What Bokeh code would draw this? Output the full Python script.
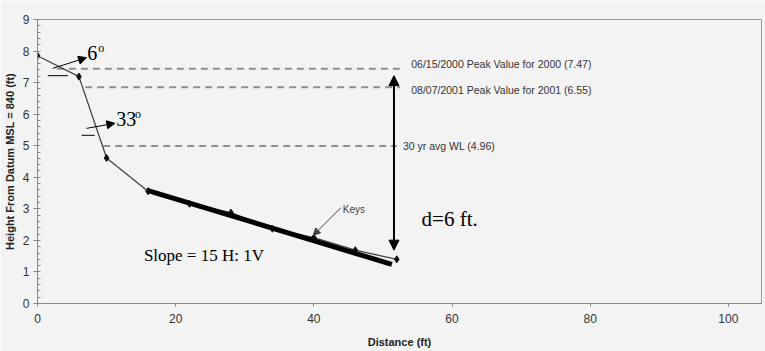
from bokeh.plotting import figure
from bokeh.models import Range1d, Arrow, NormalHead, Label, FixedTicker
from bokeh.embed import file_html
from bokeh.resources import INLINE

# ---- data ----
dist = [0, 6, 10, 16, 22, 28, 34, 40, 46, 52]
height = [7.85, 7.19, 4.61, 3.56, 3.16, 2.88, 2.37, 2.09, 1.69, 1.40]

keys_x = [16, 51.3]
keys_y = [3.58, 1.24]

ref_names = ["06/15/2000 Peak Value for 2000 (7.47)",
             "08/07/2001 Peak Value for 2001 (6.55)",
             "30 yr avg WL (4.96)"]
ref_levels = [7.44, 6.85, 4.99]
ref_start = [2.8, 6.9, 9.5]
ref_end = [52.5, 52.5, 52.0]
ref_label_x = [54.1, 54.1, 52.9]
ref_label_y = [7.6, 6.77, 5.0]

depth_x = 51.6
depth_top = 7.22
depth_bottom = 1.69

x_ticks = [0, 20, 40, 60, 80, 100]
y_ticks = [0, 1, 2, 3, 4, 5, 6, 7, 8, 9]

BG = "#f3f3f3"
p = figure(width=765, height=351, output_backend="svg", toolbar_location=None,
           x_range=Range1d(0, 104.8), y_range=Range1d(0, 9),
           min_border_left=30, min_border_right=4, min_border_top=19, min_border_bottom=48)
p.background_fill_color = BG
p.border_fill_color = BG
p.outline_line_color = "#999999"
p.outline_line_width = 1
p.grid.visible = False

# axes
for ax in (p.xaxis[0], p.yaxis[0]):
    ax.axis_line_color = "#888888"
    ax.major_tick_line_color = "#888888"
    ax.minor_tick_line_color = "#888888"
    ax.major_label_text_font = "Liberation Sans"
    ax.major_label_text_font_size = "12px"
    ax.major_label_text_color = "#333333"
    ax.axis_label_text_font = "Liberation Sans"
    ax.axis_label_text_font_size = "11px"
    ax.axis_label_text_font_style = "bold"
    ax.axis_label_text_color = "#222222"

p.xaxis.ticker = FixedTicker(ticks=x_ticks)
p.xaxis.major_tick_out = 3
p.xaxis.major_tick_in = 0
p.xaxis.major_label_standoff = 7
p.xaxis.axis_label = "Distance (ft)"
p.xaxis.axis_label_standoff = 10

p.yaxis.ticker = FixedTicker(ticks=y_ticks,
                             minor_ticks=[i * 0.2 for i in range(46)])
p.yaxis.major_tick_out = 4
p.yaxis.major_tick_in = 0
p.yaxis.minor_tick_out = 0
p.yaxis.minor_tick_in = 3
p.yaxis.major_label_standoff = 4
p.yaxis.axis_label = "Height From Datum MSL = 840 (ft)"
p.yaxis.axis_label_standoff = 4

# reference dashed lines
p.segment(x0=ref_start, y0=ref_levels, x1=ref_end, y1=ref_levels,
          line_color="#8f8f8f", line_width=2, line_dash="7 5")
for name, lx, ly in zip(ref_names, ref_label_x, ref_label_y):
    p.add_layout(Label(x=lx, y=ly, text=name, text_font="Liberation Sans",
                       text_font_size="10.5px", text_color="#333333",
                       text_baseline="middle", text_align="left"))

# profile
p.line(dist, height, line_color="#444444", line_width=1.3)
p.scatter(dist, height, marker="diamond", size=7, color="#111111")

# keys thick line
p.line(keys_x, keys_y, line_color="black", line_width=5)

# keys label
p.add_layout(Label(x=44.2, y=2.98, text="Keys", text_font="Liberation Sans",
                   text_font_size="10px", text_color="#444444",
                   text_baseline="middle"))
p.add_layout(Arrow(x_start=43.9, y_start=3.03, x_end=39.9, y_end=2.16,
                   line_color="#444444", line_width=1,
                   end=NormalHead(size=7, fill_color="#444444", line_color="#444444")))

# depth double arrow
p.add_layout(Arrow(x_start=depth_x, y_start=depth_bottom, x_end=depth_x, y_end=depth_top,
                   line_color="black", line_width=2,
                   start=NormalHead(size=10, fill_color="black", line_color="black"),
                   end=NormalHead(size=10, fill_color="black", line_color="black")))
p.add_layout(Label(x=55.6, y=2.67, text="d=6 ft.", text_font="Liberation Serif",
                   text_font_size="21px", text_color="black", text_baseline="middle"))

# slope text
p.add_layout(Label(x=15.4, y=1.53, text="Slope = 15 H: 1V", text_font="Liberation Serif",
                   text_font_size="17px", text_color="black", text_baseline="middle"))

# angle annotations
p.segment(x0=[1.5, 6.4], y0=[7.22, 5.33], x1=[4.4, 8.3], y1=[7.22, 5.33],
          line_color="black", line_width=1)
p.add_layout(Arrow(x_start=2.2, y_start=7.45, x_end=7.1, y_end=7.79,
                   line_color="black", line_width=1,
                   end=NormalHead(size=8, fill_color="black", line_color="black")))
p.add_layout(Arrow(x_start=7.1, y_start=5.55, x_end=11.2, y_end=5.71,
                   line_color="black", line_width=1,
                   end=NormalHead(size=8, fill_color="black", line_color="black")))
p.add_layout(Label(x=7.2, y=7.95, text="6", text_font="Liberation Serif",
                   text_font_size="20px", text_color="black", text_baseline="middle"))
p.add_layout(Label(x=8.8, y=8.11, text="o", text_font="Liberation Serif",
                   text_font_size="12px", text_color="black", text_baseline="middle"))
p.add_layout(Label(x=11.4, y=5.86, text="33", text_font="Liberation Serif",
                   text_font_size="20px", text_color="black", text_baseline="middle"))
p.add_layout(Label(x=14.1, y=6.02, text="o", text_font="Liberation Serif",
                   text_font_size="12px", text_color="black", text_baseline="middle"))

open("out.html", "w").write(file_html(p, INLINE))
